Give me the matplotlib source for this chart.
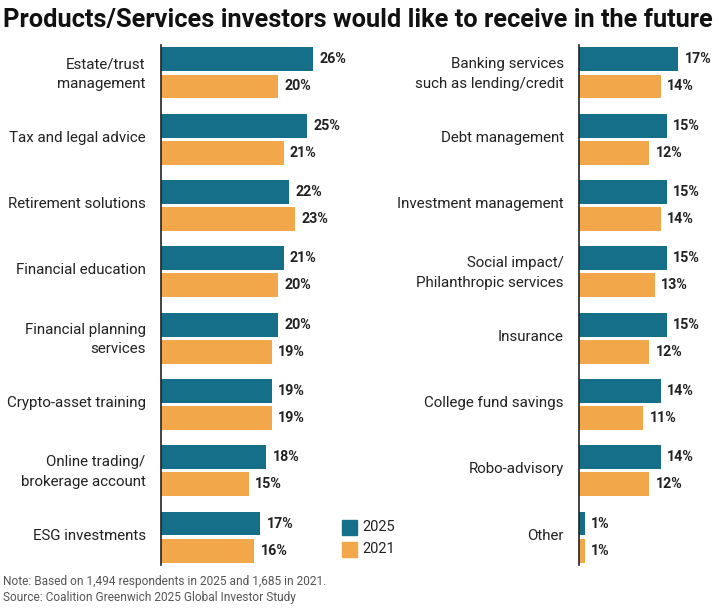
import matplotlib.pyplot as plt
from matplotlib.transforms import ScaledTranslation

left_labels = ['Estate/trust\nmanagement', 'Tax and legal advice', 'Retirement solutions',
               'Financial education', 'Financial planning\nservices', 'Crypto-asset training',
               'Online trading/\nbrokerage account', 'ESG investments']
left_2025 = [26, 25, 22, 21, 20, 19, 18, 17]
left_2021 = [20, 21, 23, 20, 19, 19, 15, 16]

right_labels = ['Banking services\nsuch as lending/credit', 'Debt management',
                'Investment management', 'Social impact/\nPhilanthropic services', 'Insurance',
                'College fund savings', 'Robo-advisory', 'Other']
right_2025 = [17, 15, 15, 15, 15, 14, 14, 1]
right_2021 = [14, 12, 14, 13, 12, 11, 12, 1]

TEAL = '#156f88'
ORANGE = '#f2a84a'
W, H = 720, 616

plt.rcParams['font.family'] = ['Roboto', 'DejaVu Sans']

fig = plt.figure(figsize=(W / 100, H / 100), dpi=100)


def panel(x0, labels, v25, v21):
    ax = fig.add_axes([x0 / W, 1 - 565 / H, 175 / W, 520 / H])
    ys = range(len(labels))
    off, h = 0.205, 0.36
    ax.barh([y - off for y in ys], v25, height=h, color=TEAL)
    ax.barh([y + off for y in ys], v21, height=h, color=ORANGE)
    for y, a, b in zip(ys, v25, v21):
        ax.text(a + 1.1, y - off, f'{a}%', va='center', ha='left',
                fontsize=10.3, fontweight='bold', color='#222222')
        ax.text(b + 1.1, y + off, f'{b}%', va='center', ha='left',
                fontsize=10.3, fontweight='bold', color='#222222')
    ax.set_xlim(0, 30)
    ax.set_ylim(7.42, -0.42)
    ax.set_yticks(list(ys))
    ax.set_yticklabels(labels, fontsize=10.9, color='#222222', ha='right')
    ax.tick_params(axis='y', length=0, pad=11)
    shift = ScaledTranslation(0, 3 / 100, fig.dpi_scale_trans)
    for lab in ax.get_yticklabels():
        lab.set_transform(lab.get_transform() + shift)
        lab.set_linespacing(1.5)
    ax.set_xticks([])
    for s in ['top', 'right', 'bottom']:
        ax.spines[s].set_visible(False)
    ax.spines['left'].set_color('#222222')
    ax.spines['left'].set_linewidth(1.2)
    return ax


panel(161, left_labels, left_2025, left_2021)
panel(579, right_labels, right_2025, right_2021)

fig.text(3 / W, 1 - 20 / H, 'Products/Services investors would like to receive in the future',
         fontsize=18.3, fontweight='bold', va='center', ha='left', color='#111111')

# legend
for y, c, t in [(527, TEAL, '2025'), (549, ORANGE, '2021')]:
    fig.patches.append(plt.Rectangle((342 / W, 1 - (y + 7.5) / H), 15 / W, 15 / H,
                                     transform=fig.transFigure, color=c))
    fig.text(362 / W, 1 - y / H, t, fontsize=10.5, va='center', ha='left', color='#222222')

fig.text(3 / W, 1 - 582 / H, 'Note: Based on 1,494 respondents in 2025 and 1,685 in 2021.',
         fontsize=8.6, color='#555555', va='center')
fig.text(3 / W, 1 - 598 / H, 'Source: Coalition Greenwich 2025 Global Investor Study',
         fontsize=8.6, color='#555555', va='center')

fig.savefig('out.png', dpi=100)
